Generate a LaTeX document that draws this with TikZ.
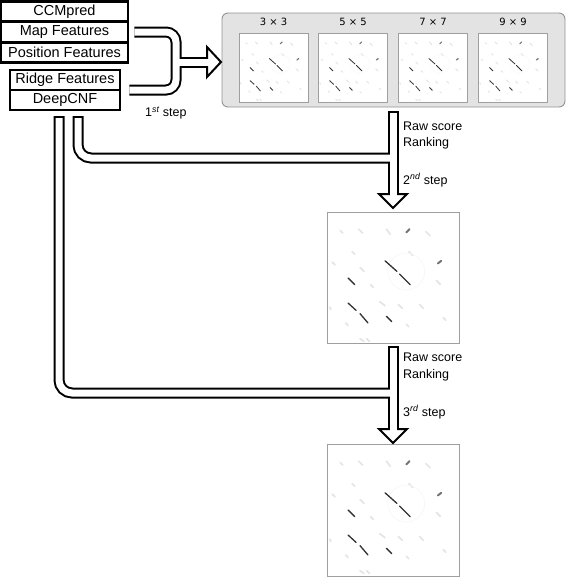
\documentclass[tikz,border=0pt]{standalone}
\usepackage{fontspec}
\usetikzlibrary{calc}
\setmainfont{Liberation Sans}
\newfontfamily\djv{DejaVu Sans}
\tikzset{
  featbox/.style={draw=black, line width=2.6pt, fill=white, inner sep=0pt, font=\fontsize{14.5}{16}\selectfont},
  pipeout/.style={line width=11pt, black},
  pipein/.style={line width=7pt, white},
  arrhead/.style={draw=black, line width=2pt, fill=white, line join=miter},
  lbl/.style={font=\fontsize{12.5}{14}\selectfont, anchor=west, inner sep=0pt},
  ttl/.style={font=\djv\fontsize{10}{12}\selectfont, inner sep=0pt},
  mapframe/.style={draw=gray!75, line width=0.9pt, fill=white}
}
\newcommand\cmapdraw[4]{%
 \begin{scope}[xshift=#1pt, yshift=-#2pt, x=#3pt, y=-#3pt]
  \foreach \a/\b/\c/\d in {0.45/0.13/0.48/0.17, 0.83/0.52/0.86/0.55, 0.02/0.72/0.03/0.74,
     0.25/0.96/0.28/0.98, 0.30/0.96/0.32/0.98, 0.24/0.13/0.27/0.16, 0.10/0.14/0.12/0.16,
     0.19/0.30/0.21/0.32, 0.25/0.42/0.28/0.45, 0.40/0.68/0.44/0.71, 0.54/0.70/0.57/0.73,
     0.70/0.70/0.73/0.73, 0.75/0.15/0.78/0.18, 0.62/0.30/0.65/0.33, 0.04/0.38/0.06/0.40,
     0.33/0.55/0.35/0.57, 0.88/0.80/0.90/0.82, 0.60/0.85/0.62/0.87, 0.14/0.84/0.16/0.86}
   \draw[gray!20, line width=1.3*#4, line cap=round] (\a,\b) -- (\c,\d);
  \draw[gray!6, line width=0.5*#4] (0.6,0.45) circle (0.14);
  \foreach \a/\b/\c/\d in {0.44/0.37/0.53/0.45, 0.55/0.47/0.63/0.55, 0.16/0.50/0.21/0.55,
     0.16/0.69/0.22/0.745, 0.25/0.77/0.31/0.84, 0.45/0.79/0.49/0.83}
   \draw[black!80, line width=#4, line cap=round] (\a,\b) -- (\c,\d);
  \draw[black!55, line width=1.5*#4, line cap=round] (0.60,0.155) -- (0.625,0.13);
  \draw[black!55, line width=1.5*#4, line cap=round] (0.84,0.39) -- (0.865,0.37);
 \end{scope}}
\begin{document}
\begin{tikzpicture}[x=1pt,y=-1pt]
\useasboundingbox (0,0) rectangle (567,579);

% feature boxes
\node[featbox, minimum width=127pt, minimum height=20.5pt] (ccm) at (64.5,11.5) {CCMpred};
\node[featbox, minimum width=127pt, minimum height=20.5pt] (map) at (64.5,32) {Map Features};
\node[featbox, minimum width=127pt, minimum height=20.5pt] (pos) at (64.5,52.5) {Position Features};
\node[featbox, minimum width=110pt, minimum height=20pt] (ridge) at (65,80) {Ridge Features};
\node[featbox, minimum width=110pt, minimum height=20pt] (cnf) at (65,100) {DeepCNF};

% window panel
\node[draw=gray!85, line width=0.9pt, fill=gray!22, rounded corners=6pt,
      minimum width=343pt, minimum height=94pt, inner sep=0pt] (panel) at (393.5,60) {};
\foreach \i/\x/\t in {1/273.5/3 × 3, 2/353/5 × 5, 3/433/7 × 7, 4/513/9 × 9} {
  \node[mapframe, minimum width=69pt, minimum height=69pt, inner sep=0pt] (win\i) at (\x,67.5) {};
  \node[ttl] (wt\i) at (\x,22) {\t};
  \cmapdraw{\x-34.5}{33}{69}{0.8pt}
}

% result maps
\node[mapframe, minimum width=132pt, minimum height=131pt, inner sep=0pt] (res2) at (393,277.5) {};
\cmapdraw{327}{212}{132}{1.3pt}
\node[mapframe, minimum width=132pt, minimum height=132pt, inner sep=0pt] (res3) at (393,510) {};
\cmapdraw{327}{444}{132}{1.3pt}

% pipe coordinates
\coordinate (p1a) at ($(map.east)+(5,0)$);
\coordinate (p1b) at ($(ridge.east)+(8,10)$);
\coordinate (j1) at (176,62);
\coordinate (h1) at (208.5,62);
\coordinate (p2) at (78,116);
\coordinate (p3) at (59,116);
\coordinate (s2t) at (393,111);
\coordinate (s2b) at (393,195);
\coordinate (s3t) at (393,346);
\coordinate (s3b) at (393,430);
\coordinate (j2) at (393,158);
\coordinate (j3) at (393,393);

% black outlines
\draw[pipeout, rounded corners=10pt] (p1a) -| (j1);
\draw[pipeout, rounded corners=10pt] (p1b) -| (j1);
\draw[pipeout] (j1) -- (207,62);
\draw[pipeout, rounded corners=13pt] (p2) |- (j2);
\draw[pipeout, rounded corners=13pt] (p3) |- (j3);
\draw[pipeout] (s2t) -- (s2b);
\draw[pipeout] (s3t) -- (s3b);

% arrow heads
\draw[arrhead] (207,47) -- (221,62) -- (207,77) -- cycle;
\draw[arrhead] (379,194) -- (407,194) -- (393,208) -- cycle;
\draw[arrhead] (379,429) -- (407,429) -- (393,443) -- cycle;

% white interiors
\draw[pipein, rounded corners=10pt] (p1a) -| (j1);
\draw[pipein, rounded corners=10pt] (p1b) -| (j1);
\draw[pipein] (j1) -- (h1);
\draw[pipein, rounded corners=13pt] ($(p2)+(0,2)$) |- (j2);
\draw[pipein, rounded corners=13pt] ($(p3)+(0,2)$) |- (j3);
\draw[pipein] ($(s2t)+(0,2)$) -- ($(s2b)+(0,1.5)$);
\draw[pipein] ($(s3t)+(0,2)$) -- ($(s3b)+(0,1.5)$);

% labels
\node[lbl] (st1) at (145,113) {1\textsuperscript{\itshape st} step};
\node[lbl] (rs1) at (403,126) {Raw score};
\node[lbl] (rk1) at (403,143) {Ranking};
\node[lbl] (st2) at (403,180) {2\textsuperscript{\itshape nd} step};
\node[lbl] (rs2) at (403,357) {Raw score};
\node[lbl] (rk2) at (403,375) {Ranking};
\node[lbl] (st3) at (403,412) {3\textsuperscript{\itshape rd} step};
\end{tikzpicture}
\end{document}
